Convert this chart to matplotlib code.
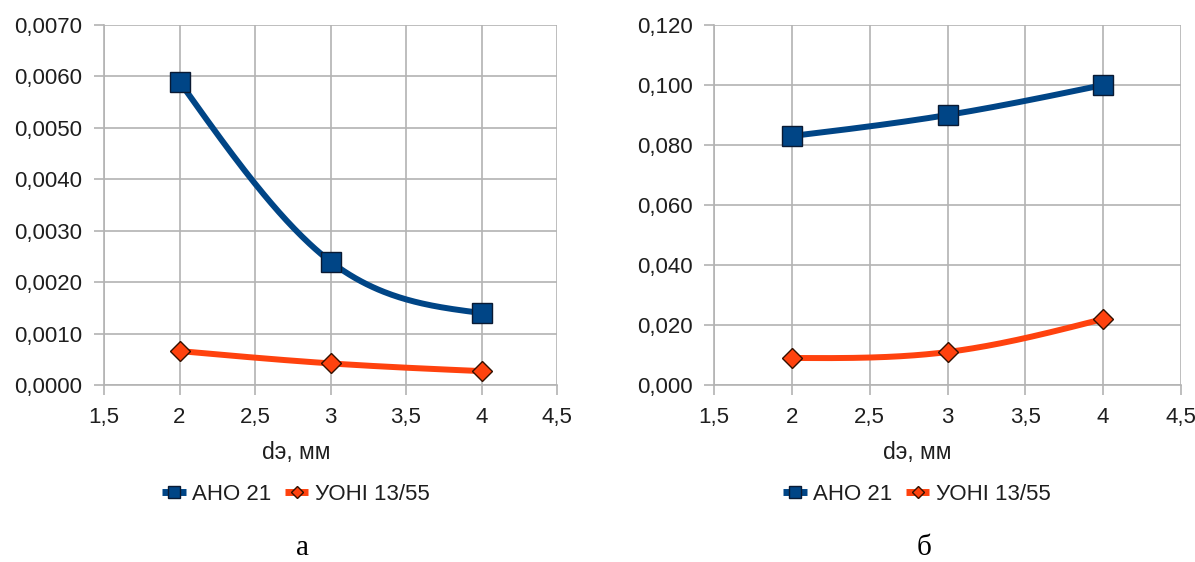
import numpy as np
import matplotlib
matplotlib.use("Agg")
import matplotlib.pyplot as plt
from matplotlib.ticker import FuncFormatter, MultipleLocator
from matplotlib.lines import Line2D

plt.rcParams['font.family'] = ['Liberation Sans', 'DejaVu Sans']

d = [2, 3, 4]
series_names = ["АНО 21", "УОНІ 13/55"]
a_aho = [0.0059, 0.0024, 0.0014]
a_uoni = [0.00066, 0.00042, 0.00027]
b_aho = [0.083, 0.090, 0.100]
b_uoni = [0.009, 0.011, 0.022]
xlabel = "dэ, мм"
captions = ["а", "б"]

BLUE = "#004586"
ORANGE = "#ff420e"
GRID = "#b3b3b3"
TXT = "#1e1e1e"

W, H = 1195, 562
fig = plt.figure(figsize=(W / 100, H / 100), dpi=100)


def ax_at(x0, x1, y0, y1):
    return fig.add_axes([x0 / W, 1 - y1 / H, (x1 - x0) / W, (y1 - y0) / H])


def smooth(x, y):
    # natural cubic spline through the data points (rendering only)
    x = np.asarray(x, float)
    y = np.asarray(y, float)
    n = len(x)
    h = np.diff(x)
    A = np.zeros((n, n))
    r = np.zeros(n)
    A[0, 0] = A[-1, -1] = 1
    for i in range(1, n - 1):
        A[i, i - 1] = h[i - 1]
        A[i, i] = 2 * (h[i - 1] + h[i])
        A[i, i + 1] = h[i]
        r[i] = 6 * ((y[i + 1] - y[i]) / h[i] - (y[i] - y[i - 1]) / h[i - 1])
    M = np.linalg.solve(A, r)
    xs_all, ys_all = [], []
    for i in range(n - 1):
        t = np.linspace(0, 1, 80)
        lin = (1 - t) * y[i] + t * y[i + 1]
        corr = h[i] ** 2 / 6 * t * (1 - t) * ((2 - t) * M[i] + (1 + t) * M[i + 1])
        xs_all.append(x[i] + t * h[i])
        ys_all.append(lin - corr)
    return np.concatenate(xs_all), np.concatenate(ys_all)


def setup(ax, ymax, ystep, ydec):
    ax.set_xlim(1.5, 4.5)
    ax.set_ylim(0, ymax)
    ax.xaxis.set_major_locator(MultipleLocator(0.5))
    ax.yaxis.set_major_locator(MultipleLocator(ystep))
    ax.xaxis.set_major_formatter(FuncFormatter(lambda v, p: ("%g" % v).replace(".", ",")))
    ax.yaxis.set_major_formatter(FuncFormatter(lambda v, p: (("%." + str(ydec) + "f") % v).replace(".", ",")))
    ax.grid(True, color=GRID, linewidth=1.2)
    ax.set_axisbelow(True)
    for s in ["top", "right"]:
        ax.spines[s].set_visible(False)
    for s in ["left", "bottom"]:
        ax.spines[s].set_color(GRID)
        ax.spines[s].set_linewidth(1.2)
    ax.tick_params(colors=GRID, labelcolor=TXT, labelsize=16, length=7.5, width=1.2, pad=8)


def plot(ax, y1, y2):
    xs, ys = smooth(d, y1)
    ax.plot(xs, ys, color=BLUE, lw=4.3, solid_capstyle='butt', zorder=3)
    ax.plot(d, y1, ls='none', marker='s', ms=14, mfc=BLUE, mec="#0a1a33", mew=1, zorder=4)
    xs, ys = smooth(d, y2)
    ax.plot(xs, ys, color=ORANGE, lw=4.3, solid_capstyle='butt', zorder=3)
    ax.plot(d, y2, ls='none', marker='D', ms=10, mfc=ORANGE, mec="#331000", mew=1, zorder=4)


axA = ax_at(104, 557, 25, 385)
setup(axA, 0.007, 0.001, 4)
plot(axA, a_aho, a_uoni)

axB = ax_at(714, 1181, 25, 385)
setup(axB, 0.12, 0.02, 3)
plot(axB, b_aho, b_uoni)

handles = [
    Line2D([], [], color=BLUE, lw=5, solid_capstyle='butt', marker='s', ms=9,
           mfc=BLUE, mec="#0a1a33", mew=1),
    Line2D([], [], color=ORANGE, lw=5, solid_capstyle='butt', marker='D', ms=6.5,
           mfc=ORANGE, mec="#331000", mew=1),
]

for cx, cap in [(296, captions[0]), (917, captions[1])]:
    fig.text(cx / W, 1 - 453 / H, xlabel, ha='center', va='center', fontsize=16.5, color=TXT)
    fig.legend(handles, series_names, loc='center', bbox_to_anchor=(cx / W, 1 - 494 / H),
               ncol=2, frameon=False, fontsize=16, handlelength=1.05, handletextpad=0.3,
               columnspacing=0.6, labelcolor=TXT)
    fig.text((cx + 7) / W, 1 - 548 / H, cap, ha='center', va='center', fontsize=21,
             family=['Liberation Serif', 'DejaVu Serif'], color="black")

fig.savefig("out.png", dpi=100)
